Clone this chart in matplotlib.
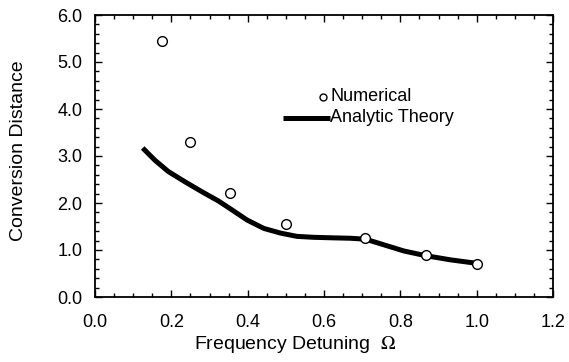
import numpy as np
import matplotlib
matplotlib.use('Agg')
import matplotlib.pyplot as plt
from matplotlib.ticker import MultipleLocator, FormatStrFormatter

# numerical results (open circles)
num_x = [0.175, 0.25, 0.354, 0.50, 0.707, 0.866, 1.0]
num_y = [5.45, 3.30, 2.21, 1.55, 1.25, 0.89, 0.70]

# analytic theory curve
theory_x = [0.125, 0.157, 0.192, 0.236, 0.280, 0.324, 0.354, 0.398, 0.442, 0.486,
            0.529, 0.573, 0.617, 0.669, 0.709, 0.757, 0.809, 0.866, 0.932, 0.997]
theory_y = [3.17, 2.91, 2.67, 2.45, 2.24, 2.04, 1.88, 1.64, 1.46, 1.36,
            1.29, 1.27, 1.26, 1.25, 1.23, 1.11, 0.98, 0.88, 0.79, 0.72]

plt.rcParams['font.family'] = ['Liberation Sans', 'DejaVu Sans']
plt.rcParams['mathtext.fontset'] = 'stix'

fig = plt.figure(figsize=(5.69, 3.62), dpi=100)
ax = fig.add_axes([95/569, 1 - 297/362, (553-95)/569, (297-15)/362])

ax.plot(theory_x, theory_y, color='black', lw=3.6, solid_capstyle='butt',
        solid_joinstyle='round')
ax.plot(num_x, num_y, 'o', ms=7, mfc='white', mec='black', mew=1.0)

# legend drawn in data coordinates
ax.plot([0.598], [4.26], 'o', ms=5, mfc='white', mec='black', mew=1.0)
ax.text(0.617, 4.26, 'Numerical', fontsize=13, va='center', ha='left')
ax.plot([0.493, 0.615], [3.81, 3.81], color='black', lw=3.6, solid_capstyle='butt')
ax.text(0.615, 3.81, 'Analytic Theory', fontsize=13, va='center', ha='left')

ax.set_xlim(0, 1.2)
ax.set_ylim(0, 6.0)
ax.xaxis.set_major_locator(MultipleLocator(0.2))
ax.xaxis.set_minor_locator(MultipleLocator(0.05))
ax.yaxis.set_major_locator(MultipleLocator(1.0))
ax.yaxis.set_minor_locator(MultipleLocator(0.2))
ax.xaxis.set_major_formatter(FormatStrFormatter('%.1f'))
ax.yaxis.set_major_formatter(FormatStrFormatter('%.1f'))
ax.tick_params(which='both', direction='in', top=True, right=True, width=1.0)
ax.tick_params(which='major', length=5, labelsize=13)
ax.tick_params(axis='x', which='major', pad=12)
ax.tick_params(axis='y', which='major', pad=9)
ax.tick_params(which='minor', length=3)
for s in ax.spines.values():
    s.set_linewidth(1.3)

ax.set_xlabel('Frequency Detuning  $\\Omega$', fontsize=14)
ax.xaxis.set_label_coords(0.437, -0.13)
ax.set_ylabel('Conversion Distance', fontsize=14)
ax.yaxis.set_label_coords(-0.148, 0.52)

fig.savefig('out.png', dpi=100)
